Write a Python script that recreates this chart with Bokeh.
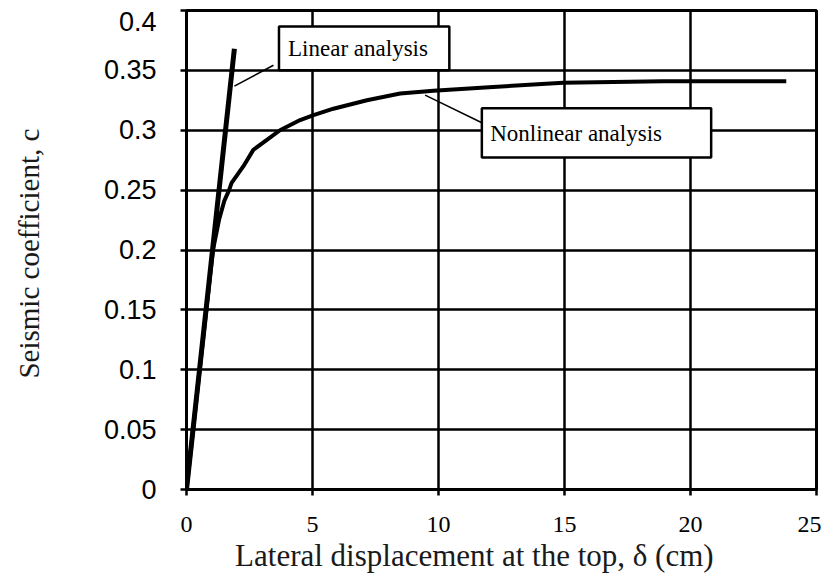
from bokeh.plotting import figure
from bokeh.models import Range1d, FixedTicker, Label, BoxAnnotation, Arrow
from bokeh.embed import file_html
from bokeh.resources import INLINE

# ---- data ----
linear_x = [0.0, 1.9]
linear_y = [0.0, 0.368]

nonlinear_x = [0.0, 0.55, 1.05, 1.3, 1.5, 1.69, 1.79, 2.26, 2.65, 3.19, 3.71,
               4.51, 5.04, 5.83, 7.16, 8.48, 9.8, 12.0, 14.95, 18.9, 23.8]
nonlinear_y = [0.0, 0.105, 0.2, 0.226, 0.241, 0.25, 0.256, 0.27, 0.2836, 0.292, 0.3,
               0.3085, 0.3127, 0.318, 0.325, 0.3307, 0.333, 0.336, 0.3396, 0.341, 0.341]

x_ticks = [0, 5, 10, 15, 20, 25]
y_ticks = [0, 0.05, 0.1, 0.15, 0.2, 0.25, 0.3, 0.35, 0.4]
y_tick_labels = ["0", "0.05", "0.1", "0.15", "0.2", "0.25", "0.3", "0.35", "0.4"]

x_label = "Lateral displacement at the top, \u03b4  (cm)"
y_label = "Seismic coefficient,  c"
linear_name = "Linear analysis"
nonlinear_name = "Nonlinear analysis"

SERIF = "Liberation Serif"
SANS = "Liberation Sans"
NBSP = "\u00a0"

p = figure(width=821, height=575, output_backend="svg", toolbar_location=None,
           x_range=Range1d(0, 25), y_range=Range1d(0, 0.4),
           min_border_left=186, min_border_right=5, min_border_top=10,
           min_border_bottom=84)

p.outline_line_color = "black"
p.outline_line_width = 3
p.background_fill_color = "white"

# grid
p.xgrid.ticker = FixedTicker(ticks=x_ticks)
p.ygrid.ticker = FixedTicker(ticks=y_ticks)
for g in (p.xgrid, p.ygrid):
    g.grid_line_color = "black"
    g.grid_line_width = 2.5
    g.grid_line_alpha = 1.0

# axes
p.xaxis.ticker = FixedTicker(ticks=x_ticks)
p.yaxis.ticker = FixedTicker(ticks=y_ticks)
overrides = {t: s for t, s in zip(y_ticks, y_tick_labels)}
# the top label sits just below its tick, keep it inside the page
overrides[y_ticks[-1]] = "\n" + y_tick_labels[-1]
p.yaxis.major_label_overrides = overrides
for ax in (p.xaxis, p.yaxis):
    ax.axis_line_color = "black"
    ax.axis_line_width = 3
    ax.major_tick_line_color = "black"
    ax.major_tick_line_width = 2.5
    ax.major_tick_out = 6
    ax.major_tick_in = 0
    ax.minor_tick_line_color = None
    ax.major_label_text_color = "black"
    ax.axis_label_text_color = "#1a1a1a"
    ax.axis_label_text_font_style = "normal"

p.xaxis.major_label_text_font = SERIF
p.xaxis.major_label_text_font_size = "24px"
p.xaxis.major_label_standoff = 21
p.xaxis.axis_label = x_label + NBSP * 6
p.xaxis.axis_label_text_font = SERIF
p.xaxis.axis_label_text_font_size = "31px"
p.xaxis.axis_label_standoff = 3

p.yaxis.major_label_text_font = SANS
p.yaxis.major_label_text_font_size = "27px"
p.yaxis.major_label_text_line_height = 0.2
p.yaxis.major_label_standoff = 24
p.yaxis.axis_label = y_label
p.yaxis.axis_label_text_font = SERIF
p.yaxis.axis_label_text_font_size = "29px"
p.yaxis.axis_label_standoff = 56

# curves
p.line(linear_x, linear_y, line_color="black", line_width=5)
p.line(nonlinear_x, nonlinear_y, line_color="black", line_width=4)

# annotation boxes
p.add_layout(BoxAnnotation(left=3.67, right=10.43, bottom=0.3501, top=0.3867,
                           fill_color="white", fill_alpha=1.0,
                           line_color="black", line_alpha=1.0, line_width=2.5,
                           level="overlay"))
p.add_layout(BoxAnnotation(left=11.72, right=20.82, bottom=0.2772, top=0.3183,
                           fill_color="white", fill_alpha=1.0,
                           line_color="black", line_alpha=1.0, line_width=2.5,
                           level="overlay"))
p.add_layout(Label(x=4.03, y=0.3684, text=linear_name, text_font=SERIF,
                   text_font_size="23px", text_baseline="middle",
                   text_color="black", level="overlay"))
p.add_layout(Label(x=12.05, y=0.2977, text=nonlinear_name, text_font=SERIF,
                   text_font_size="23px", text_baseline="middle",
                   text_color="black", level="overlay"))

# leader lines
p.add_layout(Arrow(end=None, x_start=1.9, y_start=0.3368, x_end=3.45, y_end=0.3543,
                   line_color="black", line_width=1.5))
p.add_layout(Arrow(end=None, x_start=9.47, y_start=0.3293, x_end=11.72, y_end=0.3063,
                   line_color="black", line_width=1.5))

open("out.html", "w").write(file_html(p, INLINE))
